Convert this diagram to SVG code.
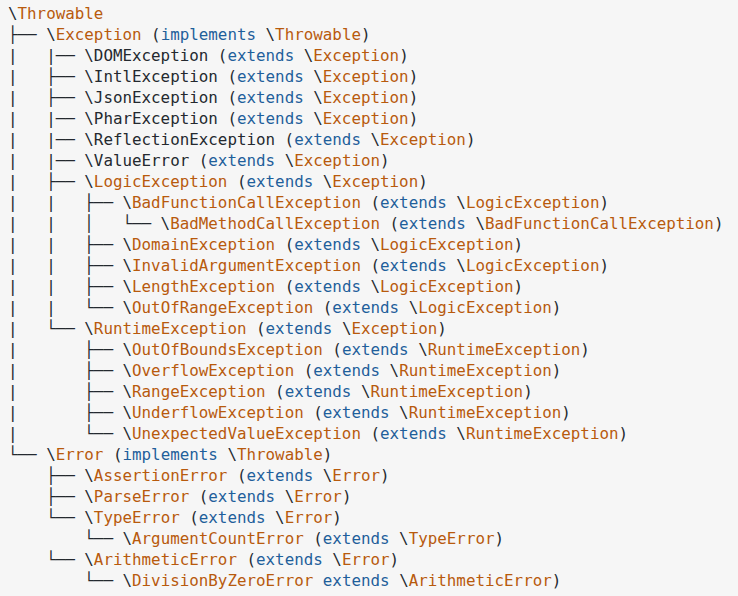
<svg xmlns="http://www.w3.org/2000/svg" width="738" height="596" viewBox="0 0 738 596">
<style>
text{font-family:"DejaVu Sans Mono","Liberation Mono",monospace;font-size:15.85px;fill:#24292f;white-space:pre}
.o{fill:#b85a0d}
.b{fill:#1f5f9b}
</style>
<rect width="738" height="596" fill="#f6f6f6"/>
<g id="tree" xml:space="preserve">
<g id="n0"><text x="8" y="18.5">\<tspan class="o">Throwable</tspan></text></g>
<g id="n1"><text x="8" y="39.5">├── \<tspan class="o">Exception</tspan> (<tspan class="b">implements</tspan> \<tspan class="o">Throwable</tspan>)</text></g>
<g id="n2"><text x="8" y="60.5">|   |── \DOMException (<tspan class="b">extends</tspan> \<tspan class="o">Exception</tspan>)</text></g>
<g id="n3"><text x="8" y="81.5">|   ├── \IntlException (<tspan class="b">extends</tspan> \<tspan class="o">Exception</tspan>)</text></g>
<g id="n4"><text x="8" y="102.5">|   ├── \JsonException (<tspan class="b">extends</tspan> \<tspan class="o">Exception</tspan>)</text></g>
<g id="n5"><text x="8" y="123.5">|   |── \PharException (<tspan class="b">extends</tspan> \<tspan class="o">Exception</tspan>)</text></g>
<g id="n6"><text x="8" y="144.5">|   |── \ReflectionException (<tspan class="b">extends</tspan> \<tspan class="o">Exception</tspan>)</text></g>
<g id="n7"><text x="8" y="165.5">|   |── \ValueError (<tspan class="b">extends</tspan> \<tspan class="o">Exception</tspan>)</text></g>
<g id="n8"><text x="8" y="186.5">|   ├── \<tspan class="o">LogicException</tspan> (<tspan class="b">extends</tspan> \<tspan class="o">Exception</tspan>)</text></g>
<g id="n9"><text x="8" y="207.5">|   |   ├── \<tspan class="o">BadFunctionCallException</tspan> (<tspan class="b">extends</tspan> \<tspan class="o">LogicException</tspan>)</text></g>
<g id="n10"><text x="8" y="228.5">|   |   │   └── \<tspan class="o">BadMethodCallException</tspan> (<tspan class="b">extends</tspan> \<tspan class="o">BadFunctionCallException</tspan>)</text></g>
<g id="n11"><text x="8" y="249.5">|   |   ├── \<tspan class="o">DomainException</tspan> (<tspan class="b">extends</tspan> \<tspan class="o">LogicException</tspan>)</text></g>
<g id="n12"><text x="8" y="270.5">|   |   ├── \<tspan class="o">InvalidArgumentException</tspan> (<tspan class="b">extends</tspan> \<tspan class="o">LogicException</tspan>)</text></g>
<g id="n13"><text x="8" y="291.5">|   |   ├── \<tspan class="o">LengthException</tspan> (<tspan class="b">extends</tspan> \<tspan class="o">LogicException</tspan>)</text></g>
<g id="n14"><text x="8" y="312.5">|   |   └── \<tspan class="o">OutOfRangeException</tspan> (<tspan class="b">extends</tspan> \<tspan class="o">LogicException</tspan>)</text></g>
<g id="n15"><text x="8" y="333.5">|   └── \<tspan class="o">RuntimeException</tspan> (<tspan class="b">extends</tspan> \<tspan class="o">Exception</tspan>)</text></g>
<g id="n16"><text x="8" y="354.5">|       ├── \<tspan class="o">OutOfBoundsException</tspan> (<tspan class="b">extends</tspan> \<tspan class="o">RuntimeException</tspan>)</text></g>
<g id="n17"><text x="8" y="375.5">|       ├── \<tspan class="o">OverflowException</tspan> (<tspan class="b">extends</tspan> \<tspan class="o">RuntimeException</tspan>)</text></g>
<g id="n18"><text x="8" y="396.5">|       ├── \<tspan class="o">RangeException</tspan> (<tspan class="b">extends</tspan> \<tspan class="o">RuntimeException</tspan>)</text></g>
<g id="n19"><text x="8" y="417.5">|       ├── \<tspan class="o">UnderflowException</tspan> (<tspan class="b">extends</tspan> \<tspan class="o">RuntimeException</tspan>)</text></g>
<g id="n20"><text x="8" y="438.5">|       └── \<tspan class="o">UnexpectedValueException</tspan> (<tspan class="b">extends</tspan> \<tspan class="o">RuntimeException</tspan>)</text></g>
<g id="n21"><text x="8" y="459.5">└── \<tspan class="o">Error</tspan> (<tspan class="b">implements</tspan> \<tspan class="o">Throwable</tspan>)</text></g>
<g id="n22"><text x="8" y="480.5">    ├── \<tspan class="o">AssertionError</tspan> (<tspan class="b">extends</tspan> \<tspan class="o">Error</tspan>)</text></g>
<g id="n23"><text x="8" y="501.5">    ├── \<tspan class="o">ParseError</tspan> (<tspan class="b">extends</tspan> \<tspan class="o">Error</tspan>)</text></g>
<g id="n24"><text x="8" y="522.5">    └── \<tspan class="o">TypeError</tspan> (<tspan class="b">extends</tspan> \<tspan class="o">Error</tspan>)</text></g>
<g id="n25"><text x="8" y="543.5">        └── \<tspan class="o">ArgumentCountError</tspan> (<tspan class="b">extends</tspan> \<tspan class="o">TypeError</tspan>)</text></g>
<g id="n26"><text x="8" y="564.5">    └── \<tspan class="o">ArithmeticError</tspan> (<tspan class="b">extends</tspan> \<tspan class="o">Error</tspan>)</text></g>
<g id="n27"><text x="8" y="585.5">        └── \<tspan class="o">DivisionByZeroError</tspan> <tspan class="b">extends</tspan> \<tspan class="o">ArithmeticError</tspan>)</text></g>
</g>
<g id="connectors"/>
</svg>
